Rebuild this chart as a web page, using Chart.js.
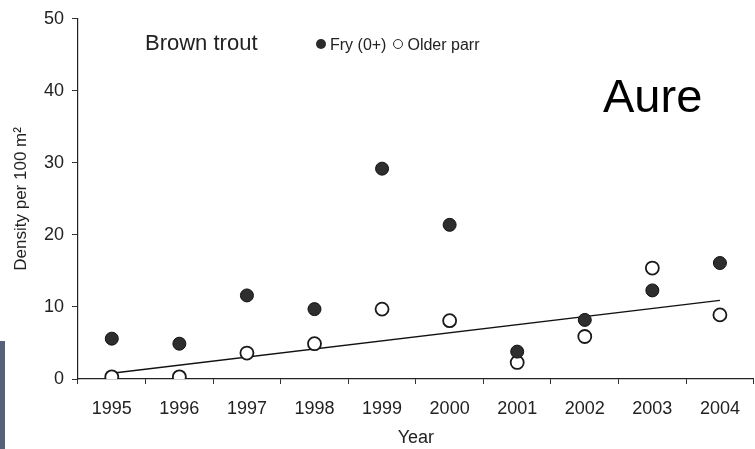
<!DOCTYPE html>
<html>
<head>
<meta charset="utf-8">
<script src="https://cdn.jsdelivr.net/npm/chart.js@4"></script>
<style>
  html, body { margin: 0; padding: 0; background: #fff; overflow: hidden; }
  body { width: 755px; height: 449px; position: relative; font-family: "Liberation Sans", Arial, sans-serif; color: #222; }
  #wrap { position: absolute; left: 0; top: 0; width: 762px; height: 449px; }
  .txt { position: absolute; white-space: nowrap; line-height: 1; }
  #species { left: 145px; top: 32px; font-size: 22px; }
  #legend { left: 316px; top: 37px; font-size: 16px; }
  .dot { display: inline-block; width: 10px; height: 10px; border-radius: 50%; vertical-align: 1px; margin-right: 4px; box-sizing: border-box; }
  .dot.fill { background: #2b2b2b; }
  .dot.open { border: 1.5px solid #2b2b2b; background: #fff; margin-left: 7px; }
  #site { left: 603px; top: 72px; font-size: 47px; color: #000; }
  #strip { position: absolute; left: 0; top: 341px; width: 5px; height: 108px; background: #566078; }
</style>
</head>
<body>
<div id="wrap"><canvas id="grafico"></canvas></div>
<div class="txt" id="species">Brown trout</div>
<div class="txt" id="legend"><span class="dot fill"></span>Fry (0+)<span class="dot open"></span>Older parr</div>
<div class="txt" id="site">Aure</div>
<div id="strip"></div>
<script>
// ── DATOS ────────────────────────────────────────────────
const years = ['1995', '1996', '1997', '1998', '1999', '2000', '2001', '2002', '2003', '2004'];
const fry = [5.6, 4.9, 11.6, 9.7, 29.2, 21.4, 3.8, 8.2, 12.3, 16.1];
const olderParr = [0.3, 0.3, 3.6, 4.9, 9.7, 8.1, 2.3, 5.9, 15.4, 8.9];
const trendYears = ['1995', '2004'];
const trendValues = [0.8, 10.9];
const yTicks = [0, 10, 20, 30, 40, 50];

const ink = '#222222';
const tickFont = { family: '"Liberation Sans", Arial, sans-serif', size: 18 };

new Chart(document.getElementById('grafico'), {
    type: 'line',
    data: {
        labels: years,
        datasets: [
            {
                label: 'Fry (0+)',
                data: fry,
                showLine: false,
                pointRadius: 6.5,
                pointBackgroundColor: '#2e2e2e',
                pointBorderColor: '#111',
                pointBorderWidth: 1,
                order: 1
            },
            {
                label: 'Older parr',
                data: olderParr,
                showLine: false,
                pointRadius: 6.5,
                pointBackgroundColor: '#fff',
                pointBorderColor: '#1a1a1a',
                pointBorderWidth: 1.8,
                order: 2
            },
            {
                label: 'trend',
                data: trendYears.map((y, i) => ({ x: y, y: trendValues[i] })),
                borderColor: '#111',
                borderWidth: 1.3,
                pointRadius: 0,
                order: 3
            }
        ]
    },
    options: {
        responsive: true,
        maintainAspectRatio: false,
        animation: false,
        layout: { padding: { top: 13, right: 0, bottom: 0, left: 0 } },
        plugins: { legend: { display: false }, tooltip: { enabled: false } },
        scales: {
            x: {
                type: 'category',
                offset: true,
                grid: { offset: true, drawOnChartArea: false, drawTicks: true, tickLength: 5, color: '#333' },
                border: { display: true, color: ink, width: 1.2 },
                ticks: { color: ink, font: tickFont, padding: 14, maxRotation: 0 },
                title: { display: true, text: 'Year', color: ink, font: { family: tickFont.family, size: 18 }, padding: { top: 0, bottom: 0 } },
                afterFit: s => { s.height = 70; }
            },
            y: {
                min: 0,
                max: 50,
                afterBuildTicks: s => { s.ticks = yTicks.map(v => ({ value: v })); },
                grid: { drawOnChartArea: false, drawTicks: true, tickLength: 6, color: '#333' },
                border: { display: true, color: ink, width: 1.2 },
                ticks: { color: ink, font: tickFont, padding: 8 },
                title: { display: true, text: 'Density per 100 m²', color: ink, font: { family: tickFont.family, size: 17 }, padding: { top: 11, bottom: 0 } },
                afterFit: s => { s.width = 78; }
            }
        }
    }
});
</script>
</body>
</html>
